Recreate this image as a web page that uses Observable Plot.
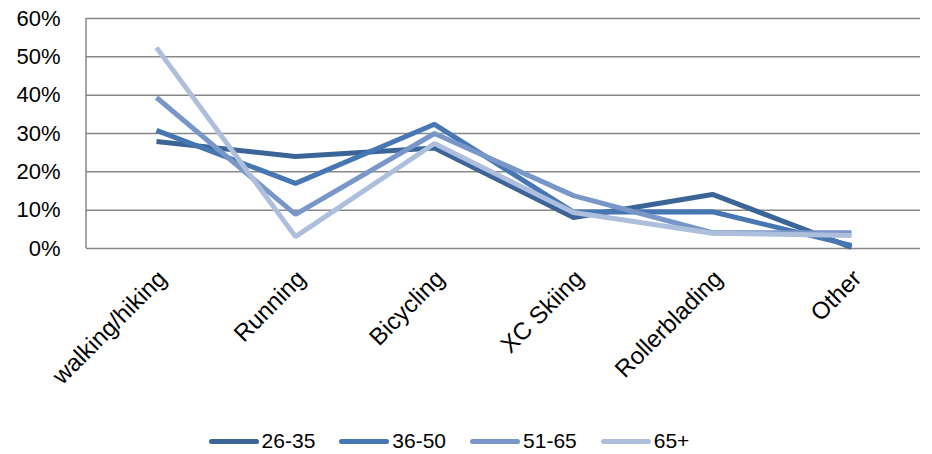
<!DOCTYPE html>
<html>
<head>
<meta charset="utf-8">
<script src="https://cdn.jsdelivr.net/npm/d3@7"></script>
<script src="https://cdn.jsdelivr.net/npm/@observablehq/plot@0.6"></script>
<style>
  body { margin: 0; background: #fff; font-family: "Liberation Sans", "Open Sans", sans-serif; }
  #chart { width: 932px; }
  .legend { display: flex; justify-content: center; gap: 24px; font-size: 21px; line-height: 24px; color: #000; margin-top: 4px; padding-right: 34px; }
  .legend span { display: inline-flex; align-items: center; }
  .legend i { display: inline-block; width: 50px; height: 5px; border-radius: 3px; margin-right: 3px; }
</style>
</head>
<body>
<div id="chart"></div>
<script>
const categories = ["walking/hiking", "Running", "Bicycling", "XC Skiing", "Rollerblading", "Other"];
const seriesNames = ["26-35", "36-50", "51-65", "65+"];
const s2635 = [0.279, 0.240, 0.262, 0.081, 0.141, 0.003];
const s3650 = [0.308, 0.170, 0.324, 0.095, 0.096, 0.008];
const s5165 = [0.394, 0.089, 0.300, 0.138, 0.041, 0.041];
const s65p  = [0.524, 0.031, 0.274, 0.094, 0.040, 0.034];
const colors = ["#3b6497", "#4677b3", "#7897c8", "#adbfdc"];
const yTicks = [0, 0.1, 0.2, 0.3, 0.4, 0.5, 0.6];

const seriesValues = [s2635, s3650, s5165, s65p];
const data = [];
seriesNames.forEach((name, si) => {
  categories.forEach((c, ci) => data.push({series: name, category: c, value: seriesValues[si][ci]}));
});

const plot = Plot.plot({
  width: 932,
  height: 425,
  marginLeft: 86,
  marginRight: 12,
  marginTop: 18,
  marginBottom: 177,
  style: {fontFamily: "Liberation Sans, Open Sans, sans-serif", fontSize: "22px", color: "#000", background: "#fff", overflow: "visible"},
  x: {type: "point", domain: categories, padding: 0.5, align: 0.5},
  y: {domain: [0, 0.6]},
  color: {domain: seriesNames, range: colors},
  marks: [
    Plot.gridY(yTicks, {stroke: "#888", strokeOpacity: 1, strokeWidth: 1.5}),
    Plot.axisY(yTicks, {tickFormat: d => Math.round(d * 100) + "%", tickSize: 0, tickPadding: 26, fontSize: 22, label: null}),
    Plot.axisX({tickRotate: -45, tickSize: 0, tickPadding: 26, dx: 6, fontSize: 24, label: null}),
    Plot.lineY(data, {x: "category", y: "value", z: "series", stroke: "series", strokeWidth: 5, strokeLinejoin: "miter", strokeLinecap: "butt"})
  ]
});
// left border line at the left edge of the plot area
const svg = d3.select(plot);
svg.append("line").attr("x1", 86).attr("x2", 86).attr("y1", 18).attr("y2", 248).attr("stroke", "#888").attr("stroke-width", 1.5);
document.getElementById("chart").appendChild(plot);

const legend = d3.select("#chart").append("div").attr("class", "legend");
seriesNames.forEach((n, i) => {
  const item = legend.append("span");
  item.append("i").style("background", colors[i]);
  item.append("text").text(n);
});
</script>
</body>
</html>
